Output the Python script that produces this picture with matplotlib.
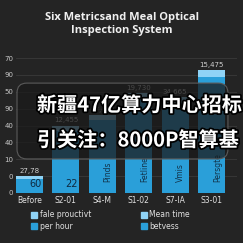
import matplotlib
matplotlib.use("Agg")
import matplotlib.pyplot as plt
import numpy as np
from matplotlib.patches import FancyBboxPatch, Patch
import matplotlib.patheffects as pe

# data (y in tick-slot units)
categories = ["Before", "S2-01", "S4-M", "S1-02", "S7-IA", "S3-01"]
per_hour = [0.85, 3.7, 4.3, 5.55, 5.35, 6.85]
fale_prouctivt = [0.18, 0.3, 0.3, 0.35, 0.35, 0.45]
top_labels = ["27,78", "12,455", "17,050", "19,730", "34,665", "15,475"]
inner_labels = ["60", "22", "Pinds", "Fetline", "Vmis", "Persgte"]
ytick_labels = ["0", "0", "10", "40", "40", "90", "50", "90", "70"]
legend_labels = ["fale prouctivt", "per hour", "Mean time", "betvess"]

BG = "#242424"
BLUE = "#2a9fd9"
LIGHT = "#8fd3f6"

fig = plt.figure(figsize=(2.43, 2.43), dpi=100, facecolor=BG)
ax = fig.add_axes([0.066, 0.206, 0.909, 0.555], facecolor=BG)

x = np.arange(len(categories))
ax.bar(x, per_hour, width=0.74, color=BLUE, zorder=2)
ax.bar(x, fale_prouctivt, bottom=per_hour, width=0.74, color=LIGHT, zorder=2)

tops = np.array(per_hour) + np.array(fale_prouctivt)
for xi, t, lab in zip(x, tops, top_labels):
    ax.text(xi, t + 0.12, lab, ha="center", va="bottom", fontsize=5, color="#d0d0d0")

for i, lab in enumerate(inner_labels):
    if i < 2:
        ax.text(x[i] + 0.33, 0.55, lab, ha="right", va="center", fontsize=7, color="#0e2a40")
    else:
        ax.text(x[i] + 0.16, 0.62, lab, ha="center", va="bottom", rotation=90,
                fontsize=5.5, color="#12334a")

ax.set_xlim(-0.37, 5.7)
ax.set_ylim(0, 8)
ax.set_yticks(range(len(ytick_labels)))
ax.set_yticklabels(ytick_labels)
ax.set_xticks(x)
ax.set_xticklabels(categories)
ax.tick_params(axis="y", length=0, pad=2, labelsize=5, labelcolor="#c8c8c8")
ax.tick_params(axis="x", length=0, pad=2, labelsize=5.5, labelcolor="#e0e0e0")
ax.grid(axis="y", color="#3a3a3a", lw=0.6, zorder=0)
for s in ax.spines.values():
    s.set_visible(False)

handles = [Patch(color=LIGHT), Patch(color=BLUE), Patch(color=LIGHT), Patch(color=BLUE)]
fig.legend(handles, legend_labels, loc="center left", bbox_to_anchor=(0.1, 0.092),
           ncol=2, frameon=False, fontsize=5.5, labelcolor="#e0e0e0",
           handlelength=0.8, handleheight=0.8, handletextpad=0.3,
           columnspacing=6.5, labelspacing=0.35)

fig.text(0.5, 0.902, "Six Metricsand Meal Optical\nInspection System", ha="center",
         va="center", fontsize=8, fontweight="bold", color="#f0f0f0",
         family="Open Sans", linespacing=1.3)

# overlay card with caption
box = dict(transform=fig.transFigure, boxstyle="round,pad=0,rounding_size=0.04")
card = FancyBboxPatch((0.07, 0.346), 0.868, 0.312, facecolor="#1a1a1a", alpha=0.75,
                      edgecolor="none", zorder=5, **box)
edge = FancyBboxPatch((0.07, 0.346), 0.868, 0.312, facecolor="none",
                      edgecolor="#5a5a5a", lw=0.8, zorder=6, **box)
fig.patches.extend([card, edge])

stroke = [pe.withStroke(linewidth=2.5, foreground="black")]
fam = ["Noto Sans CJK SC", "DejaVu Sans"]
fig.text(0.152, 0.568, "新疆47亿算力中心招标", fontsize=14.5, fontweight="bold",
         color="white", family=fam, va="center", ha="left", path_effects=stroke, zorder=7)
fig.text(0.152, 0.424, "引关注：8000P智算基", fontsize=14.5, fontweight="bold",
         color="white", family=fam, va="center", ha="left", path_effects=stroke, zorder=7)

fig.savefig("out.png", dpi=100, facecolor=BG)
